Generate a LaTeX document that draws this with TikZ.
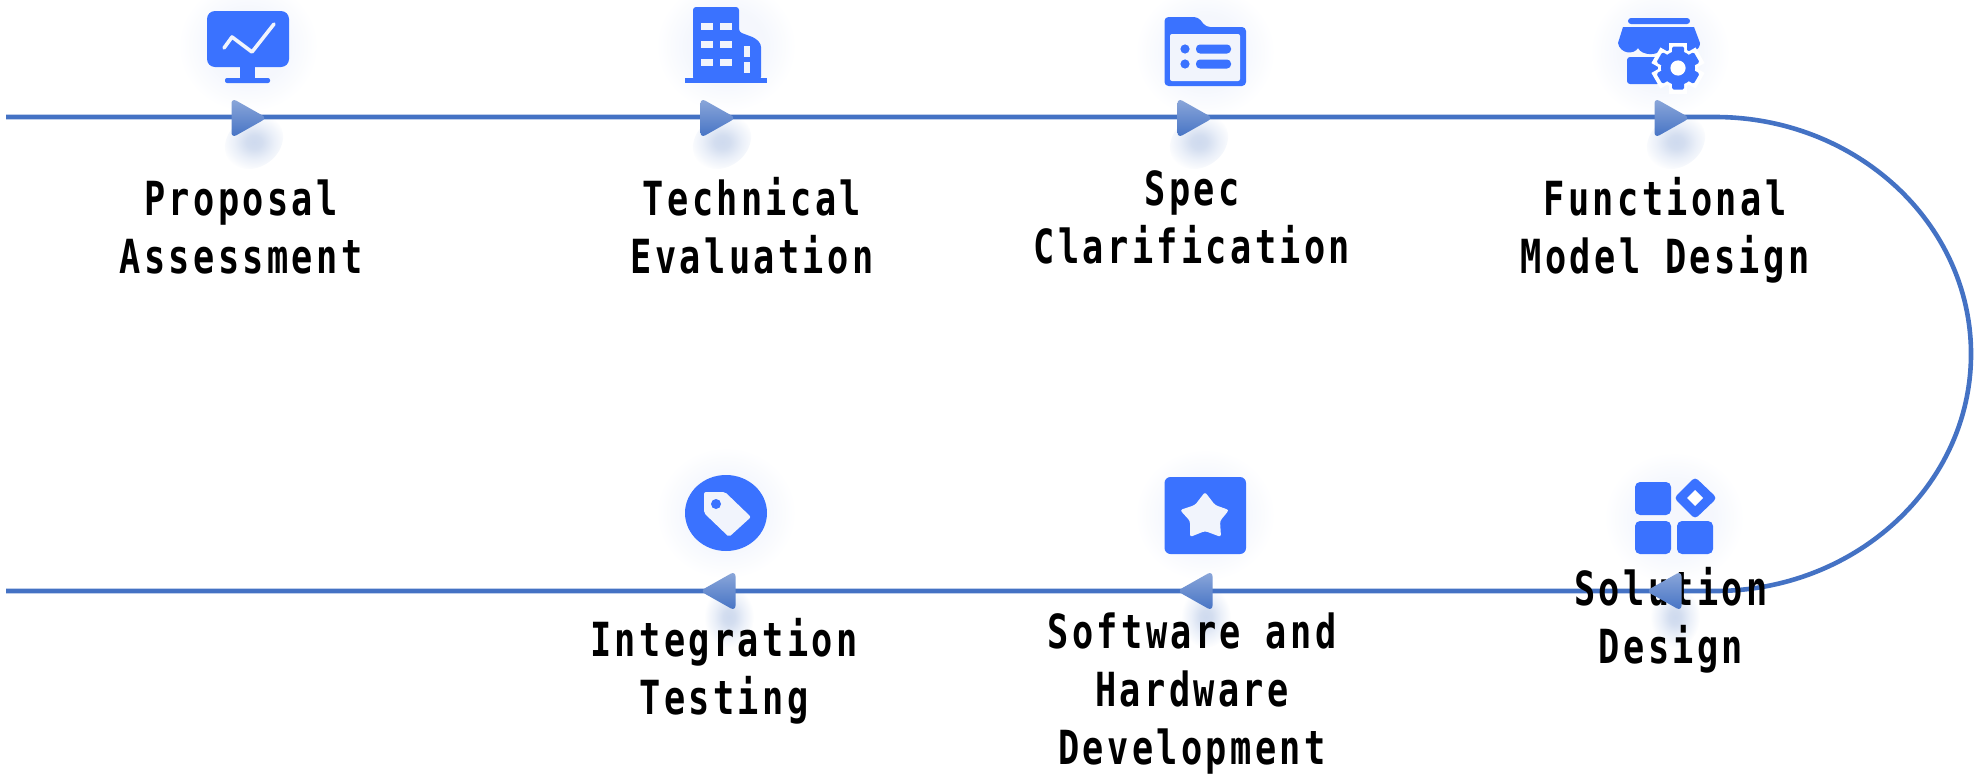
\documentclass[tikz,border=0pt]{standalone}
\usepackage{fontspec}
\newfontfamily\lblfont[FakeStretch=0.75,LetterSpace=7.2]{DejaVu Sans Mono Bold}
\definecolor{iconblue}{HTML}{3A72FF}
\definecolor{flowblue}{HTML}{4472C4}
\definecolor{arrowtop}{HTML}{8DA8DA}
\definecolor{iconlight}{HTML}{F1F4FC}
\pgfdeclareradialshading{softshadow}{\pgfpoint{0bp}{0bp}}{%
  rgb(0bp)=(0.81,0.855,0.935);
  rgb(6bp)=(0.83,0.87,0.94);
  rgb(15bp)=(0.92,0.94,0.975);
  rgb(25bp)=(1,1,1);
  rgb(50bp)=(1,1,1)}
\pgfdeclareradialshading{softglow}{\pgfpoint{0bp}{0bp}}{%
  rgb(0bp)=(0.96,0.97,0.993);
  rgb(14bp)=(0.96,0.97,0.993);
  rgb(25bp)=(1,1,1);
  rgb(50bp)=(1,1,1)}
\tikzset{
  flow/.style={draw=flowblue,line width=4.6pt},
  lbl/.style={font=\lblfont\fontsize{47}{58}\selectfont,align=center,anchor=base,inner sep=0pt,text=black},
  ico/.style={fill=iconblue,draw=none},
  icolight/.style={fill=iconlight,draw=none},
  tri/.style={top color=arrowtop,bottom color=flowblue,draw=none,rounded corners=5.5pt},
  glowspot/.style={shading=softglow,draw=none},
  shadspot/.style={shading=softshadow,draw=none},
}
\newcommand{\shadowat}[3]{\shade[shadspot,rotate around={#3:(#1,#2)}] (#1,#2) ellipse [x radius=31,y radius=25];}
\newcommand{\glowat}[2]{\shade[glowspot] (#1,#2) ellipse [x radius=70,y radius=66];}
\newcommand{\triR}[2]{\shade[tri] (#1-15.5,#2-20) -- (#1+20,#2) -- (#1-15.5,#2+20) -- cycle;}
\newcommand{\triL}[2]{\shade[tri] (#1+15.5,#2-20) -- (#1-20,#2) -- (#1+15.5,#2+20) -- cycle;}
\begin{document}
\begin{tikzpicture}[x=1pt,y=-1pt]
\useasboundingbox (0,0) rectangle (1977,774);
% glows
\glowat{248}{46}\glowat{726}{46}\glowat{1205}{52}\glowat{1660}{52}
\glowat{1674}{518}\glowat{1205}{515}\glowat{726}{513}
% arrow shadows
\shadowat{254}{142}{35}\shadowat{722}{142}{35}\shadowat{1199}{142}{35}\shadowat{1676}{142}{35}
\shadowat{1675}{617}{90}\shadowat{1206}{617}{90}\shadowat{729}{617}{90}
% connector
\coordinate (topstart) at (6,117);
\coordinate (topend) at (1715,117);
\coordinate (rightmost) at (1971,354);
\coordinate (botstart) at (1715,591);
\coordinate (botend) at (6,591);
\draw[flow] (topstart) -- (topend) .. controls (1856,117) and (1971,223) .. (rightmost)
  .. controls (1971,485) and (1856,591) .. (botstart) -- (botend);
% monitor
\fill[ico,rounded corners=8pt] (207,11) rectangle (289,67);
\fill[ico] (240,66) rectangle (255,79);
\fill[ico,rounded corners=2pt] (225,78) rectangle (270,83);
\draw[iconlight,line width=3.6pt,line cap=round,line join=round] (224,48) -- (232,37) -- (252,52) -- (274,24);
% building
\fill[ico,rounded corners=3pt] (693,30) -- (693,7) -- (739,7) -- (739,32) -- (739,32) -- (755,38) -- (761,44) -- (761,80) -- (693,80) -- cycle;
\fill[ico] (685,78) rectangle (767,83);
\foreach \wy in {23,41,59}{\fill[icolight] (701,\wy) rectangle +(11.5,7);\fill[icolight] (720,\wy) rectangle +(11.5,7);}
\fill[icolight] (744,46) rectangle (750,57);
\fill[icolight] (744,62) rectangle (750,73);
% folder
\fill[ico,rounded corners=4pt] (1164.5,86) -- (1164.5,17) -- (1198,17) -- (1206,27) -- (1246,27) -- (1246,86) -- cycle;
\fill[iconlight,rounded corners=2pt] (1170,34) rectangle (1240,81);
\fill[ico] (1185,49) circle (4.6);\fill[ico] (1185,64) circle (4.6);
\fill[ico,rounded corners=4pt] (1196,44.5) rectangle (1231,53.5);
\fill[ico,rounded corners=4pt] (1196,59.5) rectangle (1231,68.5);
% shop
\fill[ico,rounded corners=3pt] (1628,18) rectangle (1690,24);
\fill[ico] (1623,27) -- (1694,27) -- (1700,43) .. controls (1700,50) and (1692,54) .. (1686,52)
  .. controls (1680,56) and (1668,56) .. (1662,49) .. controls (1658,56) and (1642,56) .. (1638,48)
  .. controls (1634,55) and (1620,54) .. (1618,43) -- cycle;
\fill[ico,rounded corners=3pt] (1627,57) -- (1660,57) -- (1660,84) -- (1627,84) -- cycle;
\fill[white] (1678,68) circle (20);
\foreach \g in {0,60,...,300}{\fill[white,rotate around={\g:(1678,68)}] (1669,42.5) rectangle (1687,60);}
\fill[ico] (1678,68) circle (17);
\foreach \g in {0,60,...,300}{\fill[ico,rounded corners=1.5pt,rotate around={\g:(1678,68)}] (1672,46.5) rectangle (1684,60);}
\fill[white] (1678,68) circle (7.6);
% solution icon
\fill[ico,rounded corners=5pt] (1635,482) rectangle (1671,515);
\fill[ico,rounded corners=5pt] (1635,521) rectangle (1671,554);
\fill[ico,rounded corners=5pt] (1677,521) rectangle (1713,554);
\fill[ico,rounded corners=4pt] (1695,477) -- (1717,498) -- (1695,519) -- (1674,498) -- cycle;
\fill[white] (1695,490) -- (1703,498) -- (1695,506) -- (1687,498) -- cycle;
% star box
\fill[ico,rounded corners=6pt] (1164.5,477) rectangle (1246,554);
\fill[iconlight,rounded corners=2.5pt] (1205,492) -- (1215,505) -- (1229,510) -- (1220,521) -- (1221,537) -- (1205,531) -- (1190,537) -- (1190,521) -- (1180,510) -- (1195,505) -- cycle;
% tag icon
\fill[ico] (726,513) ellipse [x radius=41,y radius=38];
\fill[iconlight,rounded corners=2pt] (704,492) -- (725,492) -- (751,517) -- (729,537) -- (704,513) -- cycle;
\fill[ico] (716,504) circle (5);
% labels (anchored at the baseline of the last line)
\node[lbl] (l1) at (241,273) {Proposal\\Assessment};
\node[lbl] (l2) at (752,273) {Technical\\Evaluation};
\node[lbl] (l3) at (1192,263) {Spec\\Clarification};
\node[lbl] (l4) at (1665,273) {Functional\\Model Design};
\node[lbl] (l5) at (1671,663) {Solution\\Design};
\node[lbl] (l6) at (1192,764) {Software and\\Hardware\\Development};
\node[lbl] (l7) at (724,714) {Integration\\Testing};
% arrows, above the labels
\triR{247}{118}\triR{716}{118}\triR{1193}{118}\triR{1670}{118}
\triL{1666}{591}\triL{1197}{591}\triL{720}{591}
\end{tikzpicture}
\end{document}
